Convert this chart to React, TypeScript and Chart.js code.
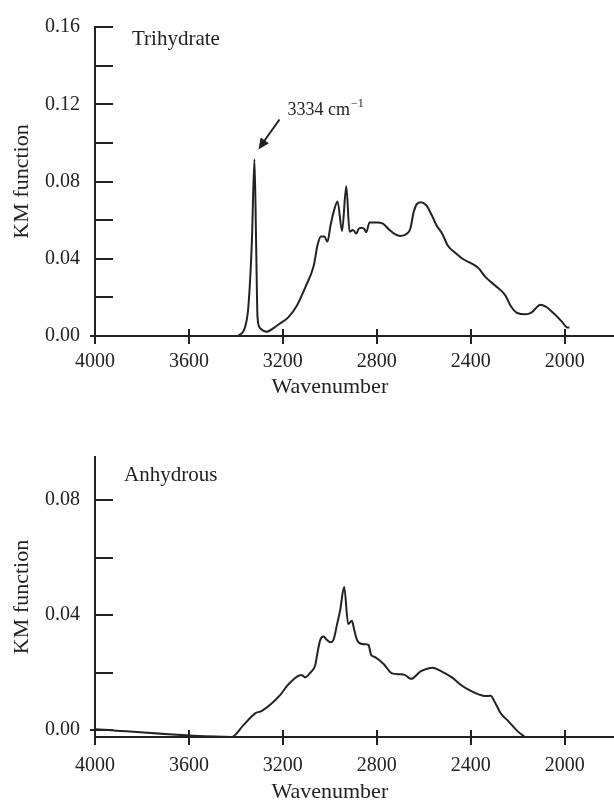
import React, { useEffect, useRef } from 'react';
import { Chart, registerables } from 'chart.js';

Chart.register(...registerables);

// ---------- data ----------
const xTickValues = [4000, 3600, 3200, 2800, 2400, 2000];
const topYTicks = [0, 0.02, 0.04, 0.06, 0.08, 0.1, 0.12, 0.14, 0.16];
const bottomYTicks = [0, 0.02, 0.04, 0.06, 0.08];

const trihydrateWavenumber = [
  3390, 3361, 3347, 3332, 3321, 3314, 3308, 3297, 3268, 3240, 3211, 3176, 3140, 3105, 3069, 3052,
  3038, 3024, 3010, 2998, 2984, 2967, 2948, 2930, 2916, 2902, 2887, 2878, 2866, 2853, 2845, 2831,
  2799, 2774, 2750, 2721, 2700, 2671, 2657, 2643, 2629, 2612, 2589, 2569, 2546, 2522, 2498, 2465,
  2430, 2394, 2366, 2338, 2295, 2252, 2231, 2202, 2167, 2139, 2103, 2082, 2046, 2011, 1989, 1980,
];
const trihydrateKM = [
  0, 0.0047, 0.015, 0.0489, 0.0914, 0.0489, 0.0098, 0.0041, 0.0022, 0.0041, 0.0066, 0.0098, 0.0158,
  0.0251, 0.0362, 0.0472, 0.0515, 0.0515, 0.0489, 0.0566, 0.0642, 0.0697, 0.0544, 0.0775, 0.054,
  0.0549, 0.0531, 0.0554, 0.0561, 0.0554, 0.0537, 0.0588, 0.0588, 0.0582, 0.0554, 0.0526, 0.0518,
  0.0531, 0.0557, 0.0642, 0.0684, 0.0693, 0.0676, 0.0633, 0.0574, 0.0531, 0.0469, 0.043, 0.0396,
  0.0374, 0.035, 0.0306, 0.026, 0.0209, 0.0158, 0.0119, 0.0112, 0.0124, 0.0162, 0.0153, 0.0116,
  0.0073, 0.0044, 0.0044,
];

const anhydrousWavenumber = [
  4000, 3417, 3368, 3318, 3289, 3247, 3211, 3183, 3155, 3126, 3119, 3105, 3084, 3062, 3052, 3041,
  3027, 3012, 2998, 2984, 2970, 2956, 2939, 2922, 2906, 2896, 2884, 2863, 2842, 2835, 2825, 2806,
  2771, 2735, 2700, 2679, 2654, 2615, 2586, 2562, 2529, 2480, 2437, 2402, 2366, 2338, 2316, 2295,
  2274, 2238, 2202, 2167,
];
const anhydrousKM = [
  0.0003, -0.0024, 0.0017, 0.0058, 0.0067, 0.0093, 0.0122, 0.0153, 0.0176, 0.0191, 0.0191, 0.0183,
  0.0199, 0.0226, 0.0272, 0.0313, 0.0325, 0.0313, 0.0305, 0.0315, 0.0365, 0.0417, 0.0498, 0.0369,
  0.038, 0.0348, 0.0313, 0.0299, 0.0298, 0.0296, 0.0263, 0.0253, 0.023, 0.0197, 0.0194, 0.0191,
  0.0178, 0.0203, 0.0213, 0.0217, 0.0206, 0.0183, 0.0154, 0.0137, 0.0124, 0.0118, 0.0119, 0.0093,
  0.006, 0.0029, -0.0003, -0.0026,
];

const peakWavenumber = 3321;
const peakKM = 0.0914;
const peakLabel = '3334 cm';

// ---------- style ----------
const INK = '#222222';
const FONT = '"Liberation Serif", "Times New Roman", serif';

function makePoints(xs: number[], ys: number[]) {
  return xs.map((x, i) => ({ x, y: ys[i] }));
}

const decorPlugin = {
  id: 'decor',
  afterDraw(chart: any, _args: any, opts: any) {
    const { ctx, chartArea, scales } = chart;
    const xs = scales.x;
    const ys = scales.y;
    ctx.save();
    ctx.strokeStyle = INK;
    ctx.fillStyle = INK;
    ctx.lineWidth = 2;
    ctx.lineCap = 'butt';
    // inward y ticks
    ys.ticks.forEach((t: any) => {
      const py = Math.round(ys.getPixelForValue(t.value));
      ctx.beginPath();
      ctx.moveTo(chartArea.left - (t.value === 0 ? 5 : 0), py);
      ctx.lineTo(chartArea.left + 18, py);
      ctx.stroke();
    });
    // crossing x ticks
    xs.ticks.forEach((t: any) => {
      const px = Math.round(xs.getPixelForValue(t.value));
      ctx.beginPath();
      ctx.moveTo(px, chartArea.bottom - 7);
      ctx.lineTo(px, chartArea.bottom + 8);
      ctx.stroke();
    });
    // x title
    ctx.font = `22px ${FONT}`;
    ctx.textAlign = 'center';
    ctx.textBaseline = 'middle';
    ctx.fillText(opts.xTitle, xs.getPixelForValue(3000), chartArea.bottom + opts.xTitleOffset);
    // panel label
    ctx.font = `21px ${FONT}`;
    ctx.textAlign = 'left';
    ctx.textBaseline = 'alphabetic';
    ctx.fillText(opts.label, chartArea.left + opts.labelDx, chartArea.top + opts.labelDy);
    // peak annotation
    if (opts.peak) {
      const px = xs.getPixelForValue(peakWavenumber);
      const py = ys.getPixelForValue(peakKM);
      const tipX = px + 4;
      const tipY = py - 10;
      const tailX = px + 25;
      const tailY = py - 40;
      ctx.beginPath();
      ctx.moveTo(tailX, tailY);
      ctx.lineTo(tipX + 4, tipY - 6);
      ctx.stroke();
      const ang = Math.atan2(tipY - tailY, tipX - tailX);
      const hl = 11;
      const hw = 5;
      ctx.beginPath();
      ctx.moveTo(tipX, tipY);
      ctx.lineTo(tipX - hl * Math.cos(ang) + hw * Math.sin(ang), tipY - hl * Math.sin(ang) - hw * Math.cos(ang));
      ctx.lineTo(tipX - hl * Math.cos(ang) - hw * Math.sin(ang), tipY - hl * Math.sin(ang) + hw * Math.cos(ang));
      ctx.closePath();
      ctx.fill();
      ctx.font = `18px ${FONT}`;
      const tx = tipX + 29;
      const ty = tipY - 34;
      ctx.fillText(peakLabel, tx, ty);
      const w = ctx.measureText(peakLabel).width;
      ctx.font = `12px ${FONT}`;
      ctx.fillText('\u22121', tx + w + 1, ty - 8);
    }
    ctx.restore();
  },
};

function buildConfig(p: {
  xs: number[];
  ys: number[];
  yTicks: number[];
  yMin: number;
  yMax: number;
  padTop: number;
  xAxisHeight: number;
  xLabelPad: number;
  decor: any;
}) {
  return {
    type: 'line' as const,
    data: {
      datasets: [
        {
          data: makePoints(p.xs, p.ys),
          borderColor: INK,
          borderWidth: 2,
          pointRadius: 0,
          fill: false,
          cubicInterpolationMode: 'monotone' as const,
        },
      ],
    },
    options: {
      animation: false as const,
      responsive: false,
      maintainAspectRatio: false,
      layout: { padding: { top: p.padTop, left: 0, right: 0, bottom: 0 } },
      plugins: { legend: { display: false }, tooltip: { enabled: false }, decor: p.decor },
      scales: {
        x: {
          type: 'linear' as const,
          reverse: true,
          min: 1790,
          max: 4000,
          afterFit: (s: any) => {
            s.height = p.xAxisHeight;
          },
          afterBuildTicks: (s: any) => {
            s.ticks = xTickValues.map((v) => ({ value: v }));
          },
          grid: { display: true, drawOnChartArea: false, drawTicks: false },
          border: { display: true, color: INK, width: 2 },
          ticks: {
            autoSkip: false,
            maxRotation: 0,
            padding: p.xLabelPad,
            color: INK,
            font: { family: FONT, size: 20 },
            callback: (v: any) => String(v),
          },
        },
        y: {
          type: 'linear' as const,
          min: p.yMin,
          max: p.yMax,
          afterFit: (s: any) => {
            s.width = 95;
          },
          afterBuildTicks: (s: any) => {
            s.ticks = p.yTicks.map((v) => ({ value: v }));
          },
          grid: { display: true, drawOnChartArea: false, drawTicks: false },
          border: { display: true, color: INK, width: 2 },
          title: {
            display: true,
            text: 'KM function',
            color: INK,
            font: { family: FONT, size: 22 },
            padding: { top: 9, bottom: 0 },
          },
          ticks: {
            autoSkip: false,
            padding: 15,
            color: INK,
            font: { family: FONT, size: 20 },
            callback: (v: any) => {
              const n = Math.round(Number(v) * 100);
              return n % 4 === 0 ? Number(v).toFixed(2) : '';
            },
          },
        },
      },
    },
    plugins: [decorPlugin],
  };
}

function SpectrumChart(props: { height: number; config: any }) {
  const ref = useRef<HTMLCanvasElement | null>(null);
  useEffect(() => {
    if (!ref.current) return;
    const chart = new Chart(ref.current, props.config);
    return () => chart.destroy();
  }, []);
  return <canvas ref={ref} width={614} height={props.height} style={{ display: 'block' }} />;
}

export default function App() {
  const topConfig = buildConfig({
    xs: trihydrateWavenumber,
    ys: trihydrateKM,
    yTicks: topYTicks,
    yMin: 0,
    yMax: 0.16,
    padTop: 22,
    xAxisHeight: 64,
    xLabelPad: 14,
    decor: { xTitle: 'Wavenumber', xTitleOffset: 51, label: 'Trihydrate', labelDx: 37, labelDy: 18, peak: true },
  });
  const bottomConfig = buildConfig({
    xs: anhydrousWavenumber,
    ys: anhydrousKM,
    yTicks: bottomYTicks,
    yMin: -0.00243,
    yMax: 0.095,
    padTop: 55,
    xAxisHeight: 68,
    xLabelPad: 17,
    decor: { xTitle: 'Wavenumber', xTitleOffset: 55, label: 'Anhydrous', labelDx: 29, labelDy: 24, peak: false },
  });
  return (
    <div style={{ position: 'absolute', left: 0, top: 0, width: 614, height: 805, background: '#fff' }}>
      <SpectrumChart height={400} config={topConfig} />
      <div style={{ height: 2 }} />
      <SpectrumChart height={403} config={bottomConfig} />
    </div>
  );
}
